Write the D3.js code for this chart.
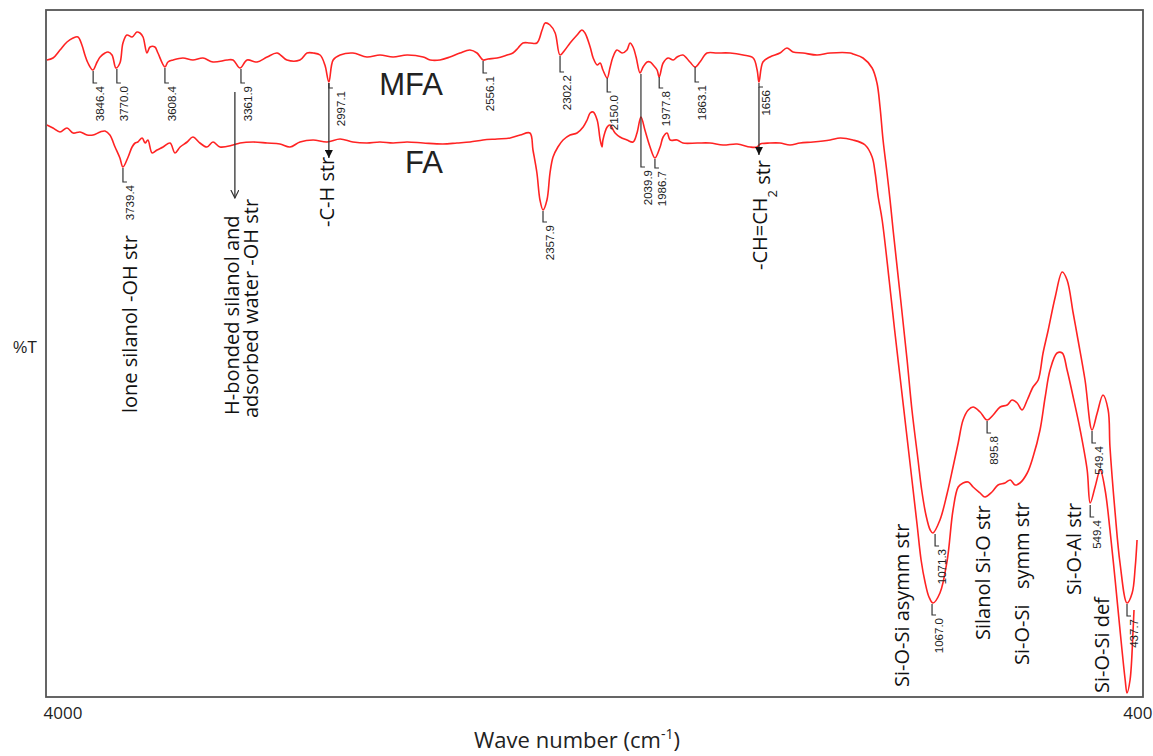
<!DOCTYPE html>
<html>
<head>
<meta charset="utf-8">
<script src="https://cdn.jsdelivr.net/npm/d3@7"></script>
<style>
  body { margin: 0; background: #fff; }
  svg { display: block; }
</style>
</head>
<body>
<div class="canvas"></div>
<script>
// wave number (cm-1), %T
const wnTicks = [4000, 400];

const mfa = [
  [3997,63.7],[3977,63.9],[3954,64.7],[3931,65.5],[3911,65.9],[3895,66.0],[3882,65.2],[3872,64.2],[3862,63.4],
  [3846,62.7],[3832,63.5],[3822,64.0],[3806,64.4],[3796,64.5],[3783,64.2],[3770,62.9],[3757,63.4],[3747,65.4],
  [3734,66.2],[3717,66.0],[3701,66.5],[3691,66.4],[3681,66.0],[3668,64.4],[3658,65.0],[3642,65.0],[3632,64.4],
  [3609,63.0],[3599,63.5],[3582,63.7],[3550,63.9],[3517,63.7],[3484,63.9],[3451,63.5],[3405,63.7],[3385,63.7],
  [3362,62.9],[3339,63.7],[3306,63.5],[3273,64.0],[3240,64.4],[3208,63.7],[3165,63.7],[3142,64.4],[3122,64.4],
  [3099,64.2],[3083,63.2],[3070,61.5],[3056,63.7],[3033,64.2],[2991,64.4],[2945,64.0],[2902,64.2],[2859,64.0],
  [2813,64.2],[2760,64.0],[2737,63.7],[2705,63.7],[2672,64.0],[2639,64.4],[2606,64.7],[2583,64.4],[2563,63.7],
  [2547,63.8],[2517,63.9],[2484,64.2],[2465,64.4],[2448,64.9],[2432,65.4],[2409,65.4],[2386,65.4],[2369,66.7],
  [2359,67.4],[2343,67.2],[2326,66.4],[2310,64.2],[2294,64.7],[2277,65.4],[2254,66.2],[2238,66.7],[2228,66.4],
  [2211,65.0],[2201,63.9],[2188,63.2],[2178,63.4],[2169,62.7],[2155,61.9],[2146,62.9],[2136,64.0],[2123,64.7],
  [2106,64.4],[2090,64.7],[2080,65.4],[2070,65.0],[2060,64.0],[2047,62.4],[2037,63.0],[2024,63.5],[2014,63.5],
  [2004,63.2],[1991,62.7],[1984,62.0],[1971,63.4],[1955,63.9],[1938,63.7],[1925,64.0],[1906,64.2],[1883,63.5],
  [1866,63.0],[1850,63.5],[1827,64.4],[1794,64.4],[1751,64.4],[1708,64.2],[1675,63.9],[1662,62.7],[1656,61.5],
  [1643,63.5],[1620,64.0],[1587,64.4],[1564,64.9],[1544,64.5],[1511,64.4],[1465,64.2],[1422,64.4],[1356,64.4],
  [1347,64.3],[1314,63.9],[1284,62.9],[1268,61.4],[1258,59.0],[1248,55.7],[1235,52.4],[1225,49.7],[1215,46.7],
  [1190,39.7],[1169,33.7],[1153,28.7],[1133,23.7],[1121,20.7],[1107,18.2],[1093,16.7],[1084,16.4],[1061,17.7],
  [1037,20.4],[1018,23.0],[1001,25.4],[985,27.7],[968,28.7],[952,29.0],[929,28.5],[906,27.7],[886,28.2],
  [863,29.0],[840,29.2],[824,29.7],[807,29.4],[791,28.7],[774,29.7],[755,31.0],[738,31.7],[722,34.4],
  [705,36.7],[682,40.0],[659,42.5],[643,41.7],[623,38.4],[607,35.7],[584,31.7],[561,26.7],[544,28.4],
  [525,30.2],[508,28.7],[502,25.0],[485,18.4],[469,13.4],[446,9.4],[429,10.4],[419,13.0],[413,15.7]
];

const fa = [
  [3997,57.2],[3977,56.9],[3954,56.5],[3931,56.9],[3911,56.4],[3888,56.5],[3865,56.2],[3845,56.2],[3822,56.5],
  [3806,56.6],[3790,56.2],[3773,55.0],[3757,53.9],[3747,53.0],[3730,54.0],[3717,55.0],[3707,55.4],[3698,55.5],
  [3684,55.9],[3674,55.4],[3665,55.7],[3651,54.4],[3635,54.7],[3615,55.0],[3592,55.4],[3576,54.4],[3559,55.0],
  [3536,55.5],[3517,56.0],[3494,55.4],[3471,55.0],[3451,55.5],[3428,55.0],[3385,55.2],[3362,55.4],[3319,55.5],
  [3273,55.4],[3231,55.3],[3198,55.0],[3165,55.5],[3122,55.7],[3076,55.5],[3033,55.8],[2991,55.5],[2945,55.4],
  [2902,55.5],[2859,55.4],[2813,55.5],[2760,55.4],[2695,55.3],[2649,55.4],[2606,55.5],[2563,55.7],[2517,55.8],
  [2474,55.9],[2441,56.2],[2409,56.4],[2399,54.7],[2386,52.4],[2376,49.7],[2366,48.7],[2353,49.7],[2343,52.4],
  [2333,54.0],[2317,55.0],[2300,55.7],[2277,56.2],[2254,56.4],[2234,57.0],[2221,57.7],[2211,58.4],[2201,58.5],
  [2188,57.7],[2178,55.7],[2172,55.0],[2169,55.7],[2155,57.0],[2146,57.2],[2129,56.4],[2113,56.0],[2090,55.7],
  [2070,55.5],[2057,56.4],[2044,58.0],[2031,56.7],[2014,55.0],[1998,53.9],[1981,55.0],[1971,56.0],[1958,56.4],
  [1948,55.7],[1925,55.7],[1906,55.4],[1859,55.4],[1817,55.4],[1774,55.2],[1728,55.3],[1685,55.0],[1662,55.0],
  [1652,55.3],[1620,55.4],[1587,55.4],[1554,55.2],[1521,55.4],[1478,55.5],[1422,55.7],[1389,55.9],[1347,55.7],
  [1307,55.2],[1284,54.0],[1274,52.4],[1264,50.0],[1251,47.7],[1228,41.7],[1210,36.7],[1191,31.7],[1172,26.7],
  [1153,21.7],[1136,17.2],[1123,13.7],[1110,11.5],[1097,10.0],[1084,9.4],[1061,10.4],[1037,13.7],[1018,18.7],
  [1001,21.0],[985,21.4],[968,21.5],[952,21.0],[929,20.4],[913,20.0],[890,20.5],[870,21.2],[847,21.4],
  [830,21.7],[814,21.2],[798,21.4],[774,22.4],[755,24.0],[732,26.7],[715,30.0],[699,32.7],[676,34.4],
  [659,34.4],[643,32.7],[623,30.0],[600,26.7],[577,22.7],[567,19.4],[551,21.0],[534,22.7],[518,20.7],
  [502,16.7],[485,11.7],[469,6.7],[452,1.7],[446,0.4],[436,1.7],[426,6.7],[423,8.7]
];

// peak marks: label, where it sits (cm-1), tick top %T, tick bottom %T
const peaks = [
  ['3846.4', 3845, 62.6, 61.4], ['3770.0', 3767, 62.8, 61.4], ['3608.4', 3609, 62.9, 61.4],
  ['3361.9', 3359, 62.8, 61.4], ['2997.1', 3070, 61.4, 60.9], ['2556.1', 2563, 63.6, 62.4],
  ['2302.2', 2310, 64.1, 62.5], ['2150.0', 2155, 61.9, 60.5], ['1977.8', 1984, 62.0, 60.9],
  ['1863.1', 1866, 63.0, 61.5], ['1656', 1656, 61.4, 61.0],
  ['3739.4', 3747, 52.9, 51.5], ['2357.9', 2366, 48.6, 47.5], ['2039.9', 2044, 62.3, 53.0],
  ['1986.7', 1998, 53.8, 52.9],
  ['1071.3', 1077, 16.3, 15.1], ['1067.0', 1087, 9.3, 8.2], ['895.8', 906, 27.6, 26.4],
  ['549.4', 561, 26.6, 25.4], ['549.4', 567, 19.2, 18.0], ['437.7', 446, 9.3, 8.1]
];

// band assignments: text, cm-1, %T where the text starts
const bands = [
  ['lone silanol -OH str', 3724, 28.4],
  ['H-bonded silanol and', 3388, 28.2],
  ['adsorbed water -OH str', 3326, 27.9],
  ['-C-H str', 3076, 47.0],
  ['-CH=CH_2 str', 1652, 42.7],
  ['Si-O-Si asymm str', 1186, 1.0],
  ['Silanol Si-O str', 919, 5.7],
  ['Si-O-Si   symm str', 791, 3.2],
  ['Si-O-Al str', 620, 10.2],
  ['Si-O-Si def', 528, 0.4]
];

// arrows: cm-1, from %T, to %T, head
const arrows = [
  [3379, 60.5, 49.9, 'open'],
  [3070, 61.4, 53.9, 'solid'],
  [1656, 61.0, 54.2, 'solid']
];

const seriesNames = [['MFA', 2695, 60.2], ['FA', 2695, 52.4]];

const dims = { width: 1153, height: 756 };
const frame = { left: 46, top: 10, right: 1143, bottom: 697 };

const svg = d3.select('.canvas')
    .append('svg')
    .attr('width', dims.width)
    .attr('height', dims.height);

const x = d3.scaleLinear().domain([4000, 400]).range([frame.left, 1141]);
const y = d3.scaleLinear().domain([0, 68.7]).range([frame.bottom, frame.top]);

const defs = svg.append('defs');
defs.append('marker')
    .attr('id', 'solid').attr('viewBox', '0 0 10 10')
    .attr('refX', 10).attr('refY', 5)
    .attr('markerWidth', 9).attr('markerHeight', 8)
    .attr('markerUnits', 'userSpaceOnUse').attr('orient', 'auto')
  .append('path').attr('d', 'M0,0L10,5L0,10z').attr('fill', '#111');
defs.append('marker')
    .attr('id', 'open').attr('viewBox', '0 0 10 10')
    .attr('refX', 9).attr('refY', 5)
    .attr('markerWidth', 9).attr('markerHeight', 9)
    .attr('markerUnits', 'userSpaceOnUse').attr('orient', 'auto')
  .append('path').attr('d', 'M0,0.5L9,5L0,9.5').attr('fill', 'none')
    .attr('stroke', '#333').attr('stroke-width', 1.3);

// frame
svg.append('rect')
    .attr('x', frame.left).attr('y', frame.top)
    .attr('width', frame.right - frame.left).attr('height', frame.bottom - frame.top)
    .attr('fill', 'none').attr('stroke', '#555').attr('stroke-width', 1.8);

// x axis (only the two end values)
const xAxis = d3.axisBottom(x).tickValues(wnTicks).tickSize(0).tickPadding(10)
    .tickFormat(d3.format('d'));
const ax = svg.append('g')
    .attr('transform', `translate(0, ${frame.bottom})`)
    .call(xAxis);
ax.attr('font-family', '"Open Sans", sans-serif').attr('font-size', 17);
ax.select('.domain').remove();
ax.selectAll('text')
    .attr('fill', '#222')
    .attr('text-anchor', d => d === 4000 ? 'start' : 'end')
    .attr('dx', d => d === 4000 ? -3 : 11);

const xTitle = svg.append('text')
    .attr('x', 577).attr('y', 748)
    .attr('text-anchor', 'middle')
    .attr('font-family', '"Open Sans", sans-serif')
    .attr('font-size', 22).attr('fill', '#222');
xTitle.append('tspan').text('Wave number (cm');
xTitle.append('tspan').attr('font-size', 14).attr('dy', -9).text('-1');
xTitle.append('tspan').attr('dy', 9).text(')');

svg.append('text')
    .attr('x', 13).attr('y', 353)
    .attr('font-family', '"Liberation Sans", Arial, sans-serif')
    .attr('font-size', 16).attr('fill', '#222')
    .text('%T');

// spectra
const line = d3.line()
    .x(d => x(d[0]))
    .y(d => y(d[1]))
    .curve(d3.curveCatmullRom.alpha(0.5));

svg.selectAll('.spectrum')
    .data([mfa, fa])
    .enter()
    .append('path')
    .attr('class', 'spectrum')
    .attr('fill', 'none')
    .attr('stroke', '#ff2323')
    .attr('stroke-width', 1.6)
    .attr('stroke-linejoin', 'round')
    .attr('d', line);

// series names
svg.selectAll('.sname')
    .data(seriesNames)
    .enter()
    .append('text')
    .attr('class', 'sname')
    .attr('x', d => x(d[1])).attr('y', d => y(d[2]))
    .attr('text-anchor', 'end')
    .attr('font-family', '"Liberation Sans", Arial, sans-serif')
    .attr('font-size', 31).attr('fill', '#222')
    .text(d => d[0]);

// arrows
svg.selectAll('.arrow')
    .data(arrows)
    .enter()
    .append('line')
    .attr('class', 'arrow')
    .attr('x1', d => x(d[0])).attr('x2', d => x(d[0]))
    .attr('y1', d => y(d[1])).attr('y2', d => y(d[2]))
    .attr('stroke', '#333').attr('stroke-width', 1.3)
    .attr('marker-end', d => `url(#${d[3]})`);

// peak ticks and values
const pk = svg.selectAll('.peak')
    .data(peaks)
    .enter()
    .append('g')
    .attr('class', 'peak');

pk.append('path')
    .attr('fill', 'none')
    .attr('stroke', '#333')
    .attr('stroke-width', 1.2)
    .attr('d', d => `M${x(d[1])},${y(d[2])}V${y(d[3])}h4`);

pk.append('text')
    .attr('transform', d => `translate(${x(d[1]) + (d[0] === '2997.1' ? 12 : 7)}, ${y(d[3]) + 3}) rotate(-90)`)
    .attr('dy', '0.35em')
    .attr('text-anchor', 'end')
    .attr('font-family', '"Liberation Sans", Arial, sans-serif')
    .attr('font-size', 11.5)
    .attr('fill', '#222')
    .text(d => d[0]);

// band assignments, rotated
const bt = svg.selectAll('.band')
    .data(bands)
    .enter()
    .append('text')
    .attr('class', 'band')
    .attr('transform', d => `translate(${x(d[1])}, ${y(d[2])}) rotate(-90)`)
    .attr('dy', '0.35em')
    .attr('font-family', '"Open Sans", sans-serif')
    .attr('font-size', 20)
    .attr('fill', '#111')
    .style('white-space', 'pre');

bt.each(function(d) {
    const t = d3.select(this);
    if (d[0].includes('_')) {
        const [main, rest] = d[0].split('_');
        t.append('tspan').text(main);
        t.append('tspan').attr('font-size', 13).attr('dy', 10).text(rest[0]);
        t.append('tspan').attr('dy', -7).text(rest.slice(1));
    } else {
        t.text(d[0]);
    }
});
</script>
</body>
</html>
